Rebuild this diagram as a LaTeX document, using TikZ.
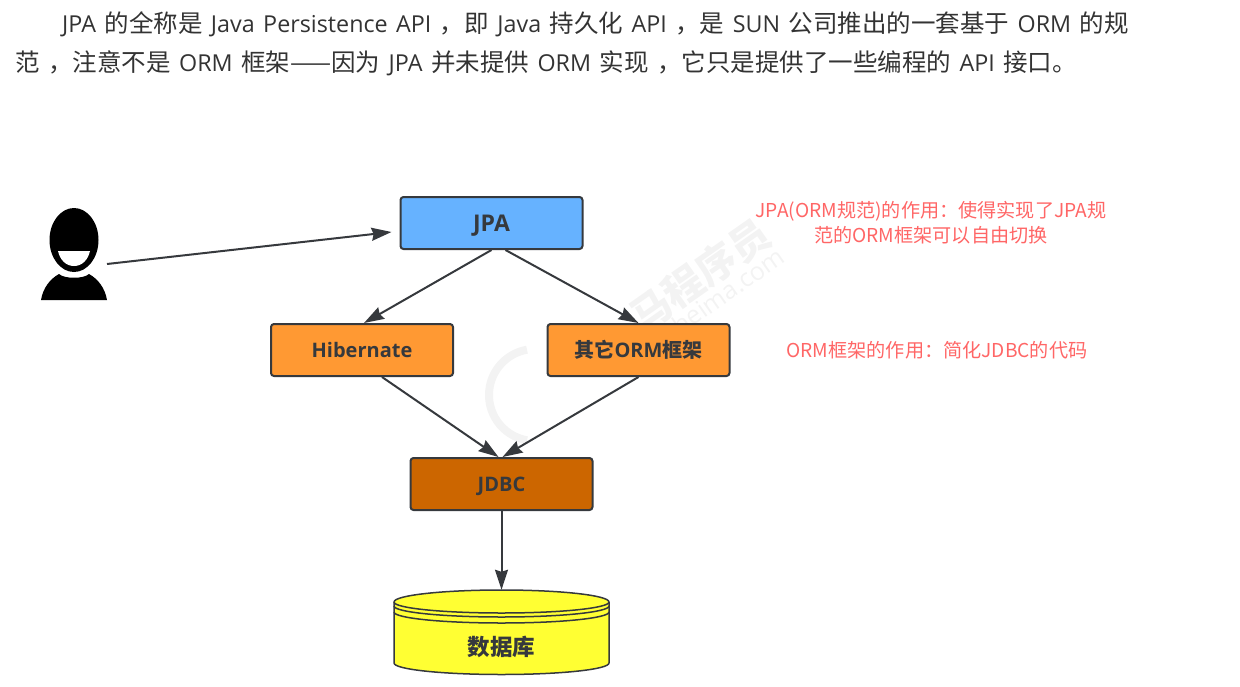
\documentclass[tikz,border=0pt]{standalone}
\usepackage{fontspec}
\setmainfont[WordSpace=1.4]{Open Sans}
\newfontfamily\cjk{Noto Sans CJK SC}
\newcommand{\zh}[1]{{\cjk\fontsize{24.5}{26}\selectfont #1}}
\usetikzlibrary{arrows.meta, positioning}

\definecolor{jpablue}{HTML}{66B2FF}
\definecolor{ormorange}{HTML}{FF9933}
\definecolor{jdbcbrown}{HTML}{CC6600}
\definecolor{dbyellow}{HTML}{FFFF33}
\definecolor{linegray}{HTML}{36393D}
\definecolor{notered}{HTML}{FF6666}
\definecolor{markgray}{HTML}{F3F3F3}

\tikzset{
	procbox/.style={draw=linegray, line width=2pt, rounded corners=3pt, minimum width=182pt, minimum height=52pt, inner sep=0pt, text height=15pt, text depth=0pt, text=linegray, font=\fontsize{20}{24}\selectfont\bfseries},
	notetext/.style={text=notered, font=\cjk\fontsize{19.15}{25}\selectfont, align=center, inner sep=0pt},
	introline/.style={anchor=base west, inner sep=0pt, text=black!80, font=\fontsize{23.3}{26}\selectfont},
	arrowline/.style={-{Stealth[length=20pt,width=13pt,inset=2pt]}, draw=linegray, line width=2pt},
	watermark/.style={text=markgray, inner sep=0pt, rotate=35}
}

\begin{document}
\begin{tikzpicture}[x=1pt,y=-1pt,on grid]
	\useasboundingbox (0,0) rectangle (1240,686);

	\node (line1) [introline] at (62,32) {JPA \zh{的全称是} Java Persistence API \zh{，即} Java \zh{持久化} API \zh{，是} SUN \zh{公司推出的一套基于} ORM \zh{的规}};
	\node (line2) [introline] at (15,71) {\zh{范} \zh{，注意不是} ORM \zh{框架——因为} JPA \zh{并未提供} ORM \zh{实现} \zh{，它只是提供了一些编程的} API \zh{接口。}};

	% watermark
	\node (mark1) [watermark, font=\cjk\bfseries\fontsize{40}{40}\selectfont] at (700,275) {马程序员};
	\node (mark2) [watermark, font=\fontsize{25}{25}\selectfont] at (722,295) {itheima.com};
	\draw [markgray, line width=8pt] (535,395) ++(100:46) arc [start angle=100, end angle=260, radius=46];

	% person
	\fill [black] (74,240) ellipse [x radius=24.5, y radius=32];
	\fill [white] (58,251) -- (90,251) .. controls (88,260) and (82,266) .. (74,266) .. controls (66,266) and (60,260) .. (58,251) -- cycle;
	\fill [black] (41,300) .. controls (43,288) and (50,279) .. (59,274) .. controls (64,279) and (84,279) .. (89,274) .. controls (98,279) and (105,288) .. (107,300) -- cycle;
	\coordinate (user) at (107,264);

	% boxes
	\node (jpa) [procbox, fill=jpablue, font=\fontsize{23}{24}\selectfont\bfseries, text height=16.5pt] at (491.5,223) {JPA};
	\node (hibernate) [procbox, fill=ormorange, below left=127pt and 129.5pt of jpa] {Hibernate};
	\node (otherorm) [procbox, fill=ormorange, below right=127pt and 147pt of jpa] {{\cjk 其它}ORM{\cjk 框架}};
	\node (jdbc) [procbox, fill=jdbcbrown, below right=134pt and 139.5pt of hibernate] {JDBC};

	% database
	\node (db) [minimum width=215pt, minimum height=85pt, inner sep=0pt, below=148.5pt of jdbc] {};
	\path [draw=linegray, fill=dbyellow, line width=1.5pt] (394,602) arc [start angle=180, end angle=360, x radius=107.5, y radius=12] -- (609,663) arc [start angle=0, end angle=180, x radius=107.5, y radius=11.5] -- cycle;
	\draw [linegray, line width=1.5pt] (394,602) arc [start angle=180, end angle=0, x radius=107.5, y radius=11];
	\draw [linegray, line width=1.5pt] (394,606) arc [start angle=180, end angle=0, x radius=107.5, y radius=11];
	\draw [linegray, line width=1.5pt] (394,612) arc [start angle=180, end angle=0, x radius=107.5, y radius=11];
	\node (dbtext) [text=linegray, inner sep=0pt, font=\cjk\bfseries\fontsize{22.5}{24}\selectfont] at (501.5,647) {数据库};

	% notes
	\node (note1) [notetext, right=439.5pt of jpa] {JPA(ORM规范)的作用：使得实现了JPA规\\范的ORM框架可以自由切换};
	\node (note2) [notetext, right=298.5pt of otherorm] {ORM框架的作用：简化JDBC的代码};

	% connectors
	\path
	(user) edge [arrowline] ([xshift=-8pt,yshift=-9pt]jpa.west)
	(jpa.south) edge [arrowline] ([xshift=2pt]hibernate.north)
	([xshift=14pt]jpa.south) edge [arrowline] (otherorm.north)
	([xshift=20pt]hibernate.south) edge [arrowline] ([xshift=-3pt]jdbc.north)
	(otherorm.south) edge [arrowline] ([xshift=1pt]jdbc.north)
	(jdbc.south) edge [arrowline] (db.north);
\end{tikzpicture}
\end{document}
